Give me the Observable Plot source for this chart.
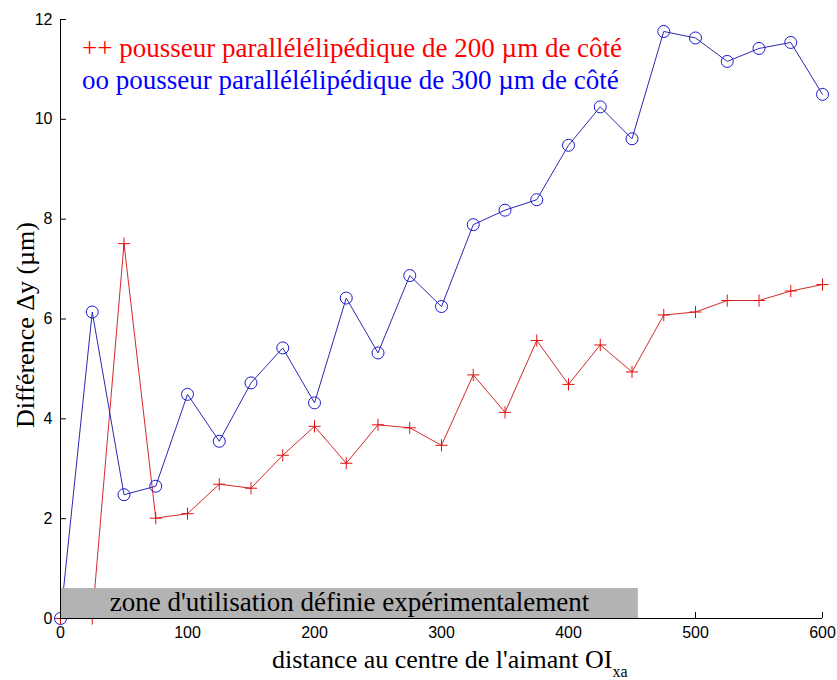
<!DOCTYPE html>
<html><head><meta charset="utf-8">
<script src="https://cdn.jsdelivr.net/npm/d3@7"></script>
<script src="https://cdn.jsdelivr.net/npm/@observablehq/plot@0.6"></script>
<style>body{margin:0;background:#fff}</style>
</head><body><div id="chart"></div>
<script>
const distances = [0,25,50,75,100,125,150,175,200,225,250,275,300,325,350,375,400,425,450,475,500,525,550,575,600];
const pousseur200 = [0,0,7.51,2.01,2.10,2.69,2.61,3.27,3.85,3.11,3.88,3.82,3.47,4.88,4.13,5.57,4.69,5.48,4.94,6.08,6.14,6.37,6.37,6.56,6.69];
const pousseur300 = [0,6.14,2.48,2.65,4.49,3.55,4.72,5.42,4.32,6.42,5.32,6.87,6.25,7.89,8.18,8.39,9.48,10.25,9.61,11.76,11.63,11.16,11.42,11.54,10.5];
const xTicks = [0,100,200,300,400,500,600];
const yTicks = [0,2,4,6,8,10,12];
const zone = [{x1:0, x2:455, y1:0, y2:0.6, label:"zone d'utilisation définie expérimentalement"}];
const legendTexts = ["++ pousseur parallélélipédique de 200 µm de côté", "oo pousseur parallélélipédique de 300 µm de côté"];
const legendColors = ["#ff0000", "#0000ff"];

const d200 = distances.map((x,i)=>({x, y:pousseur200[i]}));
const d300 = distances.map((x,i)=>({x, y:pousseur300[i]}));

const serif = "Liberation Serif";
const plot = Plot.plot({
  width: 837, height: 680,
  marginLeft: 60, marginRight: 15, marginTop: 19, marginBottom: 62,
  style: {fontFamily: "'Liberation Sans', Arial, sans-serif", fontSize: "16px", color: "#000", background: "#fff"},
  x: {domain: [0,600]},
  y: {domain: [0,12]},
  marks: [
    Plot.axisX({ticks:xTicks, tickSize:-6, tickPadding:14, label:null, fontSize:16, stroke:"#000"}),
    Plot.axisY({ticks:yTicks, tickSize:-6, tickPadding:14, label:null, fontSize:16, stroke:"#000", tickFormat:d3.format("d")}),
    Plot.line(d200, {x:"x", y:"y", stroke:"#d42a2a", strokeWidth:1}),
    Plot.dot(d200, {x:"x", y:"y", symbol:"plus", r:4, stroke:"#e01010", fill:"none", strokeWidth:1}),
    Plot.line(d300, {x:"x", y:"y", stroke:"#2a2ab0", strokeWidth:1}),
    Plot.dot(d300, {x:"x", y:"y", symbol:"circle", r:6, stroke:"#1a1ad0", fill:"none", strokeWidth:1}),
    Plot.rect(zone, {x1:"x1", x2:"x2", y1:"y1", y2:"y2", fill:"#b3b3b3"}),
    Plot.text(zone, {x:d=>(d.x1+d.x2)/2, y:d=>(d.y1+d.y2)/2, text:"label", fontSize:27, fontFamily:serif, fill:"#000", dy:-1}),
    Plot.ruleX([0], {stroke:"#000", strokeWidth:1}),
    Plot.ruleY([0], {stroke:"#000", strokeWidth:1})
  ]
});
document.getElementById("chart").appendChild(plot);

const svg = d3.select(plot);
legendTexts.forEach((t, i) => {
  svg.append("text")
    .attr("x", 82).attr("y", 57 + i*32)
    .attr("text-anchor", "start")
    .style("font-family", "'Liberation Serif', 'Times New Roman', serif")
    .style("font-size", "27px")
    .attr("fill", legendColors[i])
    .text(t);
});
const xt = svg.append("text")
  .attr("x", 272).attr("y", 668)
  .attr("text-anchor", "start")
  .style("font-family", "'Liberation Serif', 'Times New Roman', serif").style("font-size", "26px").attr("fill", "#000");
xt.append("tspan").text("distance au centre de l'aimant OI");
xt.append("tspan").style("font-size", "16px").attr("dy", 9).text("xa");
svg.append("text")
  .attr("transform", "translate(34,325) rotate(-90)")
  .attr("text-anchor", "middle")
  .style("font-family", "'Liberation Serif', 'Times New Roman', serif").style("font-size", "26px").attr("fill", "#000")
  .text("Différence Δy (µm)");
</script>
</body></html>
